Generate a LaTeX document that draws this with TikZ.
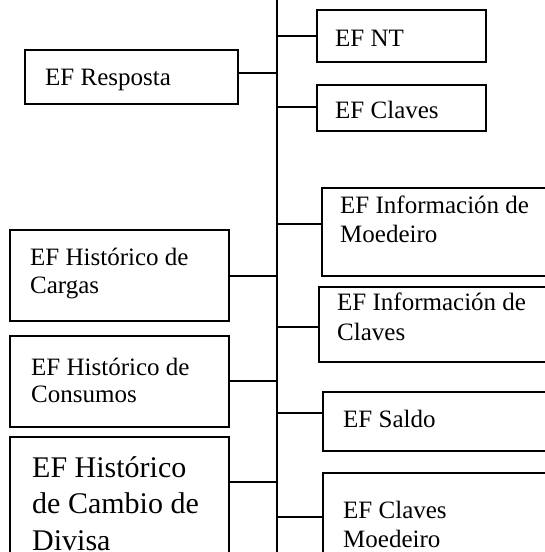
\documentclass[tikz,border=0pt]{standalone}
\usepackage{fontspec}
\setmainfont{Liberation Serif}
\begin{document}
\begin{tikzpicture}[x=1pt,y=-1pt,
  box/.style={draw, line width=1.8pt, inner sep=0pt, outer sep=0pt, anchor=north west},
  lbl/.style={anchor=base west, inner sep=0pt, font=\fontsize{25}{28}\selectfont},
  biglbl/.style={anchor=base west, inner sep=0pt, font=\fontsize{30}{36}\selectfont},
  link/.style={line width=1.6pt},
  trunkline/.style={line width=1.3pt}]
\useasboundingbox (0,0) rectangle (545,552);
\clip (0,0) rectangle (545,552);
% boxes
\node[box, minimum width=213pt, minimum height=54pt] (resp) at (25,50) {};
\node[box, minimum width=169pt, minimum height=52pt] (nt) at (317,10) {};
\node[box, minimum width=169pt, minimum height=46pt] (cl) at (317,85) {};
\node[box, minimum width=240pt, minimum height=88pt] (im) at (322,188) {};
\node[box, minimum width=219pt, minimum height=91pt] (hc) at (10,230) {};
\node[box, minimum width=243pt, minimum height=75pt] (ic) at (319,287) {};
\node[box, minimum width=219pt, minimum height=91pt] (hco) at (10,336) {};
\node[box, minimum width=239pt, minimum height=59pt] (sa) at (323,392) {};
\node[box, minimum width=219pt, minimum height=140pt] (hcd) at (10,437) {};
\node[box, minimum width=239pt, minimum height=100pt] (cm) at (323,473) {};
% texts
\node[lbl] (tresp) at (45,85) {EF Resposta};
\node[lbl] (tnt) at (335,46) {EF NT};
\node[lbl] (tcl) at (335,118) {EF Claves};
\node[lbl] (tima) at (340,213) {EF Información de};
\node[lbl] (timb) at (340,242) {Moedeiro};
\node[lbl] (thca) at (30,265) {EF Histórico de};
\node[lbl] (thcb) at (30,293) {Cargas};
\node[lbl] (tica) at (337,310) {EF Información de};
\node[lbl] (ticb) at (337,340) {Claves};
\node[lbl] (thcoa) at (31,375) {EF Histórico de};
\node[lbl] (thcob) at (31,402) {Consumos};
\node[lbl] (tsa) at (343,427) {EF Saldo};
\node[biglbl] (thcda) at (32,477) {EF Histórico};
\node[biglbl] (thcdb) at (32,513) {de Cambio de};
\node[biglbl] (thcdc) at (32,550) {Divisa};
\node[lbl] (tcma) at (343,518) {EF Claves};
\node[lbl] (tcmb) at (343,547) {Moedeiro};
% trunk
\coordinate (ttop) at (277,-5);
\coordinate (tbot) at (277,560);
\draw[trunkline] (ttop) -- (tbot);
% junctions on trunk
\coordinate (jresp) at (277,73);
\coordinate (jnt) at (277,36);
\coordinate (jcl) at (277,107);
\coordinate (jim) at (277,224);
\coordinate (jhc) at (277,276);
\coordinate (jic) at (277,327);
\coordinate (jhco) at (277,381);
\coordinate (jsa) at (277,413);
\coordinate (jhcd) at (277,482);
\coordinate (jcm) at (277,517);
% connectors
\draw[link] (resp.east |- jresp) -- (jresp);
\draw[link] (jnt) -- (nt.west |- jnt);
\draw[link] (jcl) -- (cl.west |- jcl);
\draw[link] (jim) -- (im.west |- jim);
\draw[link] (hc.east |- jhc) -- (jhc);
\draw[link] (jic) -- (ic.west |- jic);
\draw[link] (hco.east |- jhco) -- (jhco);
\draw[link] (jsa) -- (sa.west |- jsa);
\draw[link] (hcd.east |- jhcd) -- (jhcd);
\draw[link] (jcm) -- (cm.west |- jcm);
\end{tikzpicture}
\end{document}
